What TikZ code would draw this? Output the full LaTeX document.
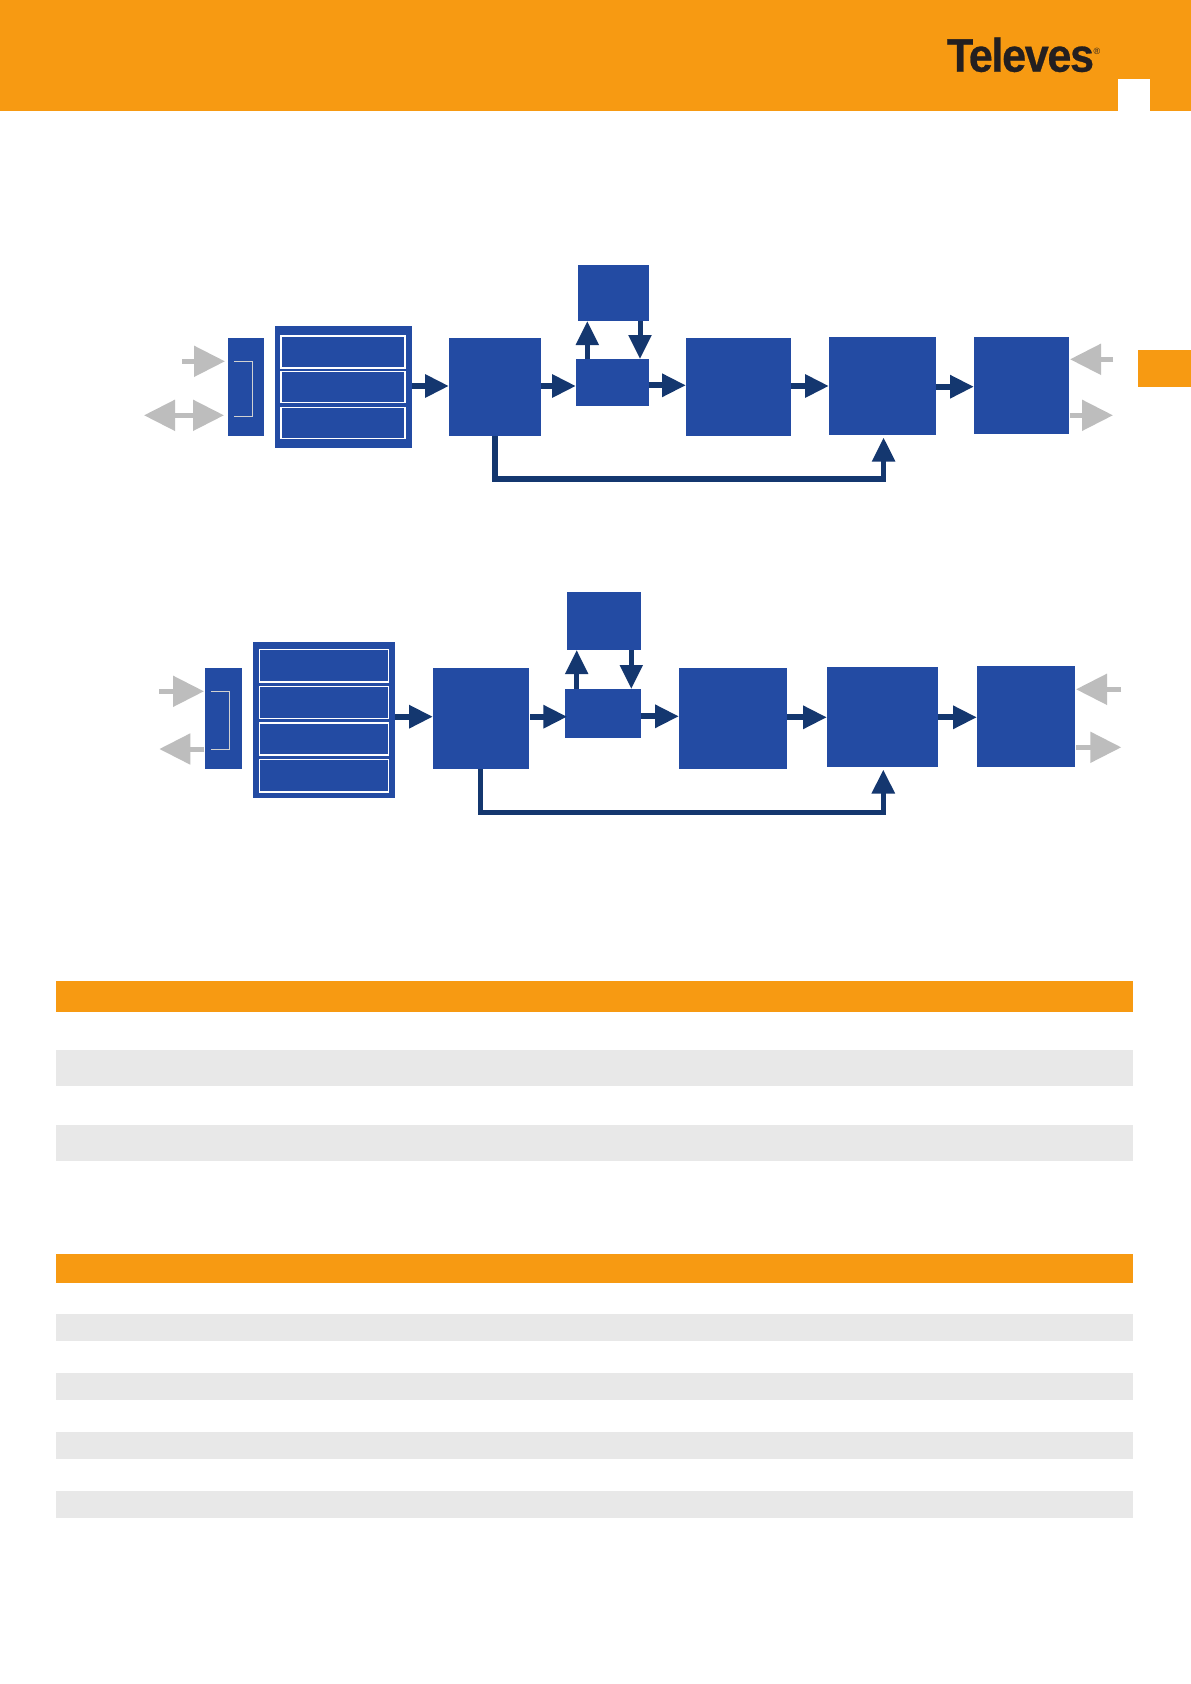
\documentclass[tikz,border=0pt]{standalone}
\usepackage{fontspec}
\usetikzlibrary{arrows.meta,calc}
\setmainfont{Liberation Sans}
\definecolor{brandorange}{HTML}{F79A12}
\definecolor{blockblue}{HTML}{234BA3}
\definecolor{flowblue}{HTML}{14376F}
\definecolor{flowgray}{HTML}{BDBDBD}
\definecolor{rowgray}{HTML}{E8E8E8}
\definecolor{logoblack}{HTML}{231F20}
\newcommand{\rectnode}[6]{\node[#1,anchor=north west,minimum width={(#5-#3)*1pt},minimum height={(#6-#4)*1pt}] (#2) at (#3,#4) {};}
\tikzset{
  plain/.style={draw=none,inner sep=0pt,outer sep=0pt},
  block/.style={plain,fill=blockblue},
  slot/.style={plain,fill=blockblue,draw=white,line width=1.5pt},
  band/.style={plain,fill=brandorange},
  row/.style={plain,fill=rowgray},
  flow/.style={draw=flowblue,line width=6pt,-{Triangle[length=24pt,width=22pt]}},
  vflow/.style={flow,line width=5pt},
  feed/.style={vflow,line width=5.5pt,shorten >=2.5pt},
  sig/.style={draw=flowgray,line width=5pt,-{Triangle[length=31pt,width=30pt]}},
  sigboth/.style={draw=flowgray,line width=5pt,{Triangle[length=31pt,width=30pt]}-{Triangle[length=31pt,width=30pt]}},
  bracket/.style={draw=flowgray!70!white,line width=1pt}
}
\begin{document}
\begin{tikzpicture}[x=1pt,y=-1pt]
\useasboundingbox (0,0) rectangle (1191,1684);
\fill[white] (0,0) rectangle (1191,1684);
% header
\rectnode{band}{header}{0}{0}{1191}{111}
\rectnode{plain,fill=white}{notch}{1118}{79}{1150}{111}
\node[plain,anchor=base west,text=logoblack,font=\fontsize{47}{47}\selectfont\bfseries,xscale=.916] (logo) at (947,71.7) {\addfontfeature{LetterSpace=-3,FakeBold=0.6}Televes};
\node[plain,anchor=center,text=logoblack,font=\fontsize{9}{9}\selectfont] (reg) at (1097,51) {®};
\rectnode{band}{sidetab}{1138}{350}{1191}{387}
% upper diagram
\rectnode{block}{uin}{228}{338}{264}{436}
\rectnode{block}{upanel}{275}{326}{412}{448}
\rectnode{slot}{uslota}{281}{336}{405}{368}
\rectnode{slot}{uslotb}{281}{371.5}{405}{402.5}
\rectnode{slot}{uslotc}{281}{407.5}{405}{438.5}
\rectnode{block}{ua}{449}{338}{541}{436}
\rectnode{block}{ub}{576}{359}{649}{406}
\rectnode{block}{uc}{578}{265}{649}{321}
\rectnode{block}{ud}{686}{338}{791}{436}
\rectnode{block}{ue}{829}{337}{936}{435}
\rectnode{block}{uf}{974}{337}{1069}{434}
\coordinate (ubr1) at (234,361.3);
\coordinate (ubr2) at (234,416.7);
\draw[bracket] (ubr1) -- (252.7,361.3) -- (252.7,416.7) -- (ubr2);
\coordinate (usiga) at (182,361.3);
\coordinate (usigb) at (225,361.3);
\coordinate (usigc) at (144,415.3);
\coordinate (usigd) at (224,415.3);
\coordinate (usige) at (1113,359.3);
\coordinate (usigf) at (1070,359.3);
\coordinate (usigg) at (1070,415.3);
\coordinate (usigh) at (1113,415.3);
\draw[sig] (usiga) -- (usigb);
\draw[sigboth] (usigc) -- (usigd);
\draw[sig] (usige) -- (usigf);
\draw[sig] (usigg) -- (usigh);
\draw[flow] (upanel.east |- 0,386) -- (ua.west |- 0,386);
\draw[flow] (ua.east |- 0,386) -- (ub.west |- 0,386);
\draw[flow] (ub.east |- 0,385.3) -- (ud.west |- 0,385.3);
\draw[flow] (ud.east |- 0,386) -- (ue.west |- 0,386);
\draw[flow] (ue.east |- 0,386.7) -- (uf.west |- 0,386.7);
\draw[vflow] (587.3,0 |- ub.north) -- (587.3,0 |- uc.south);
\draw[vflow] (640,0 |- uc.south) -- (640,0 |- ub.north);
\coordinate (ufa) at (495,479);
\coordinate (ufb) at (883.6,479);
\draw[feed] (ua.south -| ufa) -- (ufa) -- (ufb) -- (ufb |- ue.south);
% lower diagram
\rectnode{block}{lin}{205}{668}{242}{769}
\rectnode{block}{lpanel}{253}{642}{395}{798}
\rectnode{slot}{lslota}{259.5}{649.5}{388.5}{682}
\rectnode{slot}{lslotb}{259.5}{686.5}{388.5}{718.5}
\rectnode{slot}{lslotc}{259.5}{723}{388.5}{755}
\rectnode{slot}{lslotd}{259.5}{759.5}{388.5}{792}
\rectnode{block}{la}{433}{668}{529}{769}
\rectnode{block}{lb}{565}{689}{641}{738}
\rectnode{block}{lc}{567}{592}{641}{650}
\rectnode{block}{ld}{679}{668}{787}{769}
\rectnode{block}{le}{827}{667}{938}{767}
\rectnode{block}{lf}{977}{666}{1075}{767}
\coordinate (lbr1) at (211,691.3);
\coordinate (lbr2) at (211,749.3);
\draw[bracket] (lbr1) -- (229.7,691.3) -- (229.7,749.3) -- (lbr2);
\coordinate (lsiga) at (159,691.3);
\coordinate (lsigb) at (204,691.3);
\coordinate (lsigc) at (204,749);
\coordinate (lsigd) at (159.3,749);
\coordinate (lsige) at (1121,689.3);
\coordinate (lsigf) at (1076,689.3);
\coordinate (lsigg) at (1076,747.3);
\coordinate (lsigh) at (1121.3,747.3);
\draw[sig] (lsiga) -- (lsigb);
\draw[sig] (lsigc) -- (lsigd);
\draw[sig] (lsige) -- (lsigf);
\draw[sig] (lsigg) -- (lsigh);
\draw[flow] (lpanel.east |- 0,716.7) -- (la.west |- 0,716.7);
\draw[flow] (530,716.7) -- (567.3,716.7);
\draw[flow] (lb.east |- 0,716.3) -- (ld.west |- 0,716.3);
\draw[flow] (ld.east |- 0,717.3) -- (le.west |- 0,717.3);
\draw[flow] (le.east |- 0,717.3) -- (lf.west |- 0,717.3);
\draw[vflow] (576.7,0 |- lb.north) -- (576.7,0 |- lc.south);
\draw[vflow] (631.3,0 |- lc.south) -- (631.3,0 |- lb.north);
\coordinate (lfa) at (480.7,812.7);
\coordinate (lfb) at (883.3,812.7);
\draw[feed] (la.south -| lfa) -- (lfa) -- (lfb) -- (lfb |- le.south);
% tables
\rectnode{band}{thead}{56}{981}{1133}{1012}
\rectnode{row}{trowa}{56}{1050}{1133}{1086}
\rectnode{row}{trowb}{56}{1125}{1133}{1161}
\rectnode{band}{bhead}{56}{1254}{1133}{1283}
\rectnode{row}{browa}{56}{1314}{1133}{1340.7}
\rectnode{row}{browb}{56}{1373}{1133}{1400}
\rectnode{row}{browc}{56}{1432}{1133}{1458.7}
\rectnode{row}{browd}{56}{1491}{1133}{1517.7}
\end{tikzpicture}
\end{document}
